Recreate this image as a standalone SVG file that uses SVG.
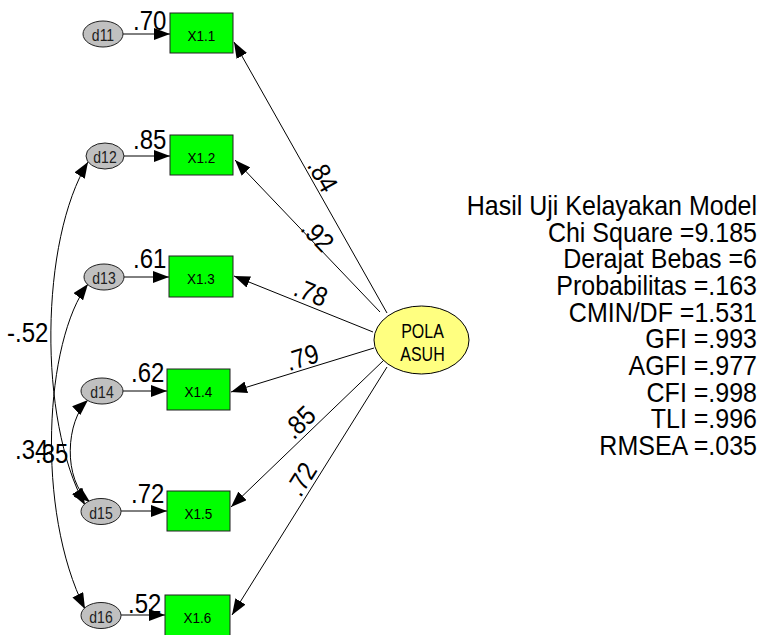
<svg xmlns="http://www.w3.org/2000/svg" width="764" height="635" viewBox="0 0 764 635">
<style>
text{font-family:"Liberation Sans",Arial,sans-serif;fill:#000}
.box{fill:#00ff00;stroke:#202020;stroke-width:1}
.err{fill:#c0c0c0;stroke:#202020;stroke-width:1}
.lat{fill:#ffff80;stroke:#000;stroke-width:1}
.ln{fill:none;stroke:#000;stroke-width:1}
.arr{marker-end:url(#ah)}
.dbl{marker-start:url(#ah);marker-end:url(#ah)}
.bt{font-size:13.5px;text-anchor:middle}
.et{font-size:14px;text-anchor:middle;fill:#202020}
.lb{font-size:24px}
.lbm{font-size:24px;text-anchor:middle}
.st{font-size:25px;text-anchor:end}
.pt{font-size:16px;text-anchor:middle}
</style>
<defs>
<marker id="ah" viewBox="0 0 16 12" refX="16" refY="6" markerWidth="16" markerHeight="12" markerUnits="userSpaceOnUse" orient="auto-start-reverse"><path d="M0,0 L16,6 L0,12 z" fill="#000"/></marker>
</defs>
<rect width="764" height="635" fill="#fff"/>

<g id="connectors">
<path class="ln arr" d="M123,34 L170,34"/>
<path class="ln arr" d="M124,156 L170,156"/>
<path class="ln arr" d="M124,277 L169,277"/>
<path class="ln arr" d="M123,391 L167,391"/>
<path class="ln arr" d="M121,511 L167,511"/>
<path class="ln arr" d="M121,615 L165,615"/>
<path class="ln arr" d="M387,313 L234,42"/>
<path class="ln arr" d="M380,312 L235,160"/>
<path class="ln arr" d="M373,332 L234,276"/>
<path class="ln arr" d="M374,348 L231,392"/>
<path class="ln arr" d="M384,360 L231,507"/>
<path class="ln arr" d="M387,367 L232,615"/>
<path class="ln dbl" d="M88,162 C40,240 38,420 85,505"/>
<path class="ln dbl" d="M88,284 C45,340 35,510 85,609"/>
<path class="ln dbl" d="M88,400 C66,420 62,480 90,502"/>
<text class="lb" transform="translate(133,30) scale(1,1.12)">.70</text>
<text class="lb" transform="translate(133,149) scale(1,1.12)">.85</text>
<text class="lb" transform="translate(133,268) scale(1,1.12)">.61</text>
<text class="lb" transform="translate(131,382) scale(1,1.12)">.62</text>
<text class="lb" transform="translate(131,503) scale(1,1.12)">.72</text>
<text class="lb" transform="translate(128,613) scale(1,1.12)">.52</text>
<text class="lbm" transform="translate(323,175) rotate(60.5) scale(1,1.12)" y="8.6">.84</text>
<text class="lbm" transform="translate(318,235) rotate(46.3) scale(1,1.12)" y="8.6">.92</text>
<text class="lbm" transform="translate(311,292) rotate(21.9) scale(1,1.12)" y="8.6">.78</text>
<text class="lbm" transform="translate(302,357) rotate(-17.2) scale(1,1.12)" y="8.6">.79</text>
<text class="lbm" transform="translate(299,422) rotate(-44) scale(1,1.12)" y="8.6">.85</text>
<text class="lbm" transform="translate(301,479) rotate(-58.2) scale(1,1.12)" y="8.6">.72</text>
<text class="lb" transform="translate(7,342) scale(1,1.12)">-.52</text>
<text class="lb" transform="translate(15,459) scale(1,1.12)">.34</text>
<text class="lb" transform="translate(35,463) scale(1,1.12)">.35</text>
</g>

<g id="X1.1"><rect class="box" x="170" y="13" width="63" height="40"/><text class="bt" transform="translate(201.5,41) scale(1,1.15)">X1.1</text></g>
<g id="X1.2"><rect class="box" x="170" y="135" width="63" height="40"/><text class="bt" transform="translate(201.5,163) scale(1,1.15)">X1.2</text></g>
<g id="X1.3"><rect class="box" x="169" y="256" width="64" height="41"/><text class="bt" transform="translate(201,284) scale(1,1.15)">X1.3</text></g>
<g id="X1.4"><rect class="box" x="167" y="369" width="63" height="41"/><text class="bt" transform="translate(198.5,397) scale(1,1.15)">X1.4</text></g>
<g id="X1.5"><rect class="box" x="167" y="491" width="63" height="40"/><text class="bt" transform="translate(198.5,519) scale(1,1.15)">X1.5</text></g>
<g id="X1.6"><rect class="box" x="165" y="595" width="65" height="41"/><text class="bt" transform="translate(197.5,623) scale(1,1.15)">X1.6</text></g>

<g id="d11"><ellipse class="err" cx="103" cy="34" rx="20" ry="13"/><text class="et" transform="translate(103,41) scale(1,1.15)">d11</text></g>
<g id="d12"><ellipse class="err" cx="105" cy="156" rx="19" ry="13"/><text class="et" transform="translate(105,163) scale(1,1.15)">d12</text></g>
<g id="d13"><ellipse class="err" cx="104" cy="277" rx="20" ry="13"/><text class="et" transform="translate(104,284) scale(1,1.15)">d13</text></g>
<g id="d14"><ellipse class="err" cx="102" cy="391" rx="21" ry="13"/><text class="et" transform="translate(102,398) scale(1,1.15)">d14</text></g>
<g id="d15"><ellipse class="err" cx="101" cy="511.5" rx="20" ry="13"/><text class="et" transform="translate(101,518.5) scale(1,1.15)">d15</text></g>
<g id="d16"><ellipse class="err" cx="101" cy="615.5" rx="20" ry="13"/><text class="et" transform="translate(101,622.5) scale(1,1.15)">d16</text></g>

<g id="POLA_ASUH"><ellipse class="lat" cx="421.5" cy="340" rx="47.5" ry="34"/>
<text class="pt" transform="translate(422.5,338) scale(1,1.3)">POLA</text>
<text class="pt" transform="translate(422.5,360.5) scale(1,1.3)">ASUH</text></g>

<g id="fit">
<text class="st" transform="translate(757,215) scale(1,1.1)">Hasil Uji Kelayakan Model</text>
<text class="st" transform="translate(757,241.7) scale(1,1.1)">Chi Square =9.185</text>
<text class="st" transform="translate(757,268.3) scale(1,1.1)">Derajat Bebas =6</text>
<text class="st" transform="translate(757,295) scale(1,1.1)">Probabilitas =.163</text>
<text class="st" transform="translate(757,321.7) scale(1,1.1)">CMIN/DF =1.531</text>
<text class="st" transform="translate(757,348.3) scale(1,1.1)">GFI =.993</text>
<text class="st" transform="translate(757,375) scale(1,1.1)">AGFI =.977</text>
<text class="st" transform="translate(757,401.7) scale(1,1.1)">CFI =.998</text>
<text class="st" transform="translate(757,428.3) scale(1,1.1)">TLI =.996</text>
<text class="st" transform="translate(757,455) scale(1,1.1)">RMSEA =.035</text>
</g>
</svg>
